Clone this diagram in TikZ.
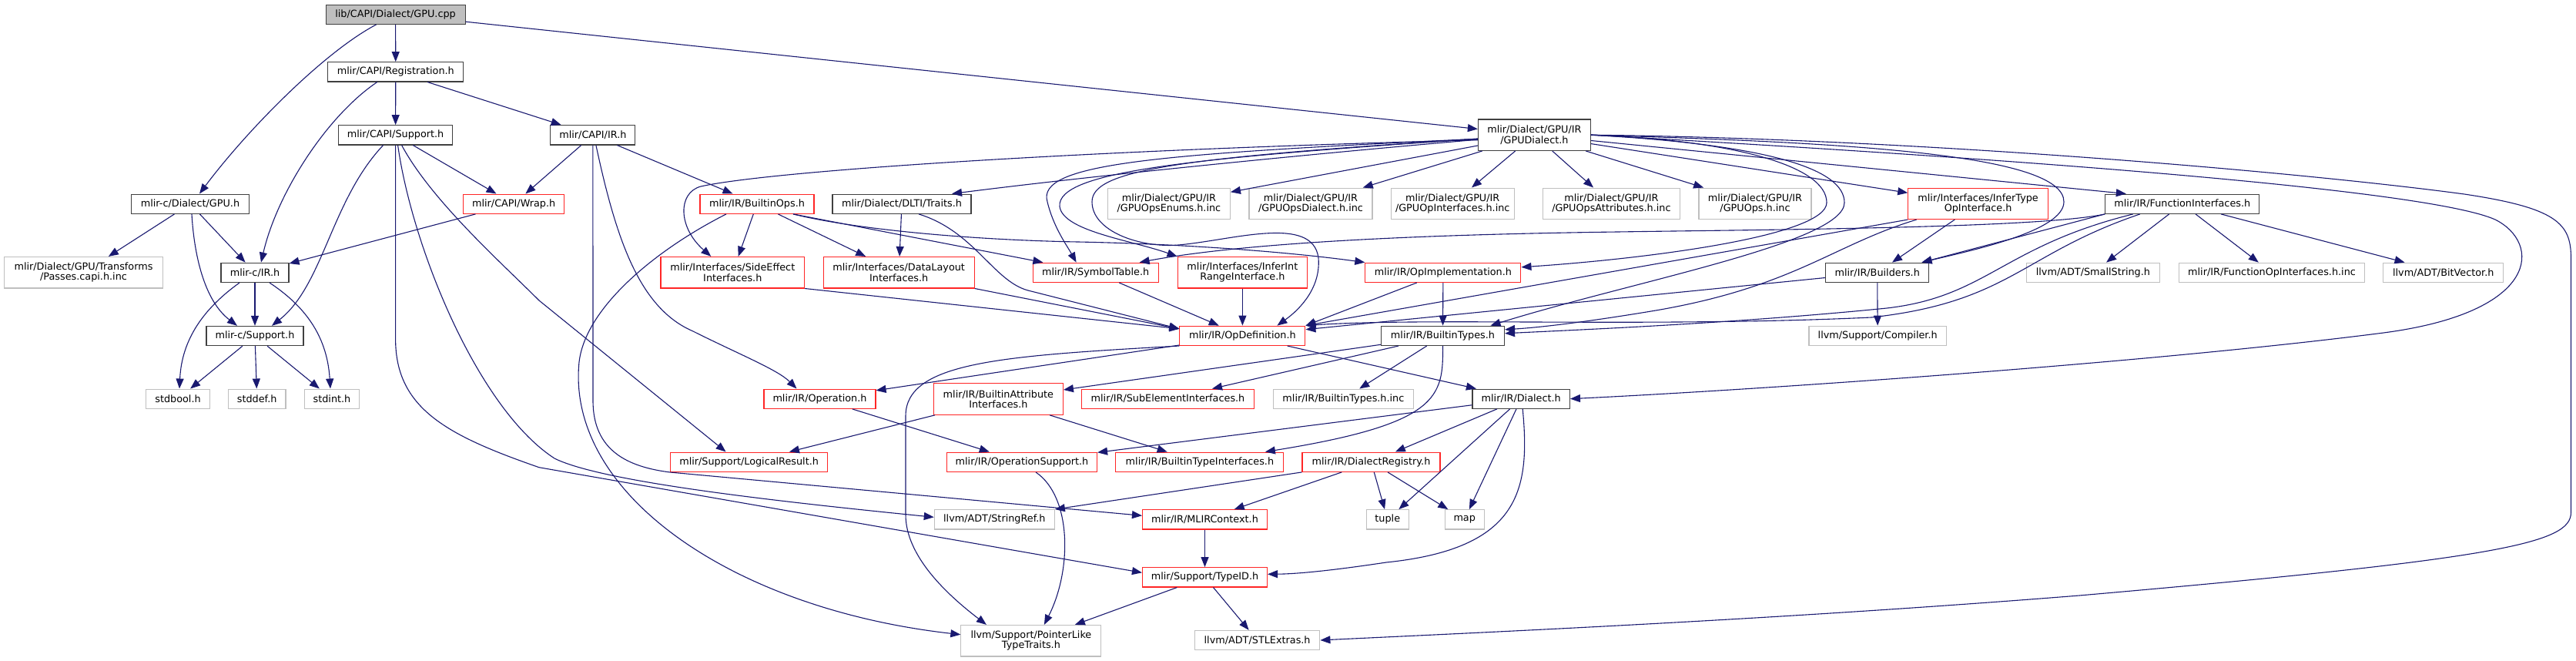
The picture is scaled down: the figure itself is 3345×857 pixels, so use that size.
\documentclass[tikz,border=0pt]{standalone}
\usepackage{fontspec}
\setmainfont{DejaVu Sans}
\usetikzlibrary{arrows.meta}
\definecolor{edgec}{HTML}{191970}
\definecolor{grayb}{HTML}{BFBFBF}
\definecolor{blackb}{HTML}{404040}
\definecolor{redb}{HTML}{FF2626}
\begin{document}
\begin{tikzpicture}[x=1pt,y=-1pt,
 base/.style={rectangle, inner sep=0pt, align=center, font=\fontsize{12.8}{13.3}\selectfont, fill=white, line width=1.1pt, minimum height=25.3pt},
 nb/.style={base, draw=blackb},
 nr/.style={base, draw=redb},
 ng/.style={base, draw=grayb},
 nroot/.style={base, draw=blackb, fill=grayb},
 tall/.style={minimum height=40.5pt},
 conn/.style={draw=edgec, line width=1.1pt, -{Triangle[length=13pt,width=10pt]}}
]
\useasboundingbox (0,0) rectangle (3345,857);

% ---- nodes ----
\node[nroot, minimum width=181pt] (root) at (513.6,18.7) {lib/CAPI/Dialect/GPU.cpp};
\node[nb, minimum width=176pt] (reg) at (513.8,93.3) {mlir/CAPI/Registration.h};
\node[nb, minimum width=148pt] (capisup) at (513.6,175.3) {mlir/CAPI/Support.h};
\node[nb, minimum width=110pt] (capiir) at (769.9,175.3) {mlir/CAPI/IR.h};
\node[nb, tall, minimum width=146pt] (gpudia) at (1992.4,175.2) {mlir/Dialect/GPU/IR\\/GPUDialect.h};
\node[nb, minimum width=153pt] (cgpu) at (247,264.7) {mlir-c/Dialect/GPU.h};
\node[nr, minimum width=131pt] (wrap) at (667.2,264.7) {mlir/CAPI/Wrap.h};
\node[nr, minimum width=148pt] (bops) at (983,264.7) {mlir/IR/BuiltinOps.h};
\node[nb, minimum width=180pt] (dlti) at (1171,264.7) {mlir/Dialect/DLTI/Traits.h};
\node[ng, tall, minimum width=159pt] (enums) at (1517.9,264.3) {mlir/Dialect/GPU/IR\\/GPUOpsEnums.h.inc};
\node[ng, tall, minimum width=160pt] (opsdia) at (1702,264.3) {mlir/Dialect/GPU/IR\\/GPUOpsDialect.h.inc};
\node[ng, tall, minimum width=160pt] (opint) at (1886.2,264.3) {mlir/Dialect/GPU/IR\\/GPUOpInterfaces.h.inc};
\node[ng, tall, minimum width=178.6pt] (attrs) at (2092.4,264.3) {mlir/Dialect/GPU/IR\\/GPUOpsAttributes.h.inc};
\node[ng, tall, minimum width=146pt] (gops) at (2279,264.3) {mlir/Dialect/GPU/IR\\/GPUOps.h.inc};
\node[nr, tall, minimum width=181.7pt] (itype) at (2568.6,264.3) {mlir/Interfaces/InferType\\OpInterface.h};
\node[nb, minimum width=200pt] (fint) at (2833.8,264.7) {mlir/IR/FunctionInterfaces.h};
\node[ng, tall, minimum width=206pt] (passes) at (108.5,353.7) {mlir/Dialect/GPU/Transforms\\/Passes.capi.h.inc};
\node[nb, minimum width=88pt] (cir) at (331,353.8) {mlir-c/IR.h};
\node[nr, tall, minimum width=186.6pt] (seff) at (951.3,353.7) {mlir/Interfaces/SideEffect\\Interfaces.h};
\node[nr, tall, minimum width=196pt] (dlay) at (1167.2,353.7) {mlir/Interfaces/DataLayout\\Interfaces.h};
\node[nr, minimum width=163pt] (symt) at (1422.6,353.8) {mlir/IR/SymbolTable.h};
\node[nr, tall, minimum width=168.6pt] (iint) at (1613.4,353.7) {mlir/Interfaces/InferInt\\RangeInterface.h};
\node[nr, minimum width=202pt] (opimpl) at (1873.9,353.8) {mlir/IR/OpImplementation.h};
\node[nb, minimum width=134.4pt] (build) at (2437.7,353.8) {mlir/IR/Builders.h};
\node[ng, minimum width=173pt] (sstr) at (2717.9,353.8) {llvm/ADT/SmallString.h};
\node[ng, minimum width=240.8pt] (foi) at (2950,353.8) {mlir/IR/FunctionOpInterfaces.h.inc};
\node[ng, minimum width=156pt] (bitv) at (3172.7,353.8) {llvm/ADT/BitVector.h};
\node[nb, minimum width=126pt] (csup) at (331,436) {mlir-c/Support.h};
\node[nr, minimum width=163pt] (opdef) at (1613.4,435.8) {mlir/IR/OpDefinition.h};
\node[nb, minimum width=160pt] (btypes) at (1873.5,435.8) {mlir/IR/BuiltinTypes.h};
\node[ng, minimum width=178.5pt] (comp) at (2438.2,435.8) {llvm/Support/Compiler.h};
\node[ng, minimum width=83pt] (stdbool) at (231,517.7) {stdbool.h};
\node[ng, minimum width=74.6pt] (stddef) at (333.7,517.7) {stddef.h};
\node[ng, minimum width=71pt] (stdint) at (431,517.7) {stdint.h};
\node[nr, minimum width=145pt] (oper) at (1064.5,517.7) {mlir/IR/Operation.h};
\node[nr, tall, minimum width=168pt] (battr) at (1296.4,518) {mlir/IR/BuiltinAttribute\\Interfaces.h};
\node[nr, minimum width=224pt] (subel) at (1516.5,517.7) {mlir/IR/SubElementInterfaces.h};
\node[ng, minimum width=182.6pt] (btinc) at (1744.4,517.7) {mlir/IR/BuiltinTypes.h.inc};
\node[nb, minimum width=126.4pt] (dial) at (1975.2,517.7) {mlir/IR/Dialect.h};
\node[nr, minimum width=204pt] (logres) at (972.6,599.7) {mlir/Support/LogicalResult.h};
\node[nr, minimum width=195pt] (opsup) at (1327,599.7) {mlir/IR/OperationSupport.h};
\node[nr, minimum width=218pt] (btint) at (1557.9,599.7) {mlir/IR/BuiltinTypeInterfaces.h};
\node[nr, minimum width=179pt] (dreg) at (1780.5,599.7) {mlir/IR/DialectRegistry.h};
\node[ng, minimum width=156pt] (sref) at (1291.3,674.3) {llvm/ADT/StringRef.h};
\node[nr, minimum width=162pt] (mctx) at (1564.5,674.3) {mlir/IR/MLIRContext.h};
\node[ng, minimum width=54.5pt] (tuple) at (1801.8,674.3) {tuple};
\node[ng, minimum width=51pt] (map) at (1901.7,674.3) {map};
\node[nr, minimum width=162pt] (typeid) at (1564.5,749.3) {mlir/Support/TypeID.h};
\node[ng, tall, minimum width=182pt] (plike) at (1338.9,831.7) {llvm/Support/PointerLike\\TypeTraits.h};
\node[ng, minimum width=162.5pt] (stl) at (1632.6,831) {llvm/ADT/STLExtras.h};

% ---- edges ----
\draw[conn] ([xshift=-25pt]root.south) .. controls (420,68) and (320,170) .. ([xshift=12pt]cgpu.north);
\draw[conn] (root) -- (reg);
\draw[conn] (root) -- (gpudia);
\draw[conn] ([xshift=-24pt]reg.south) .. controls (425,150) and (360,250) .. ([xshift=8pt]cir.north);
\draw[conn] (reg) -- (capisup);
\draw[conn] (reg) -- (capiir);
\draw[conn] ([xshift=-16pt]capisup.south) .. controls (430,260) and (420,370) .. ([xshift=22pt]csup.north);
\draw[conn] (capisup) -- (wrap);
\draw[conn] (capisup.south) -- (513.6,440) .. controls (513.6,530) and (580,565) .. (700,606.7) -- ([yshift=6pt]typeid.west);
\draw[conn] ([xshift=3pt]capisup.south) .. controls (535,320) and (620,530) .. (720,595) .. controls (780,625) and (1000,650) .. ([yshift=3pt]sref.west);
\draw[conn] ([xshift=8pt]capisup.south) .. controls (560,260) and (650,340) .. (700,390) -- ([xshift=-30pt]logres.north);
\draw[conn] (capiir) -- (wrap);
\draw[conn] (capiir.south) -- (770,520) .. controls (770,585) and (815,606) .. (870,613) -- ([yshift=5pt]mctx.west);
\draw[conn] ([xshift=4pt]capiir.south) .. controls (800,310) and (830,400) .. (900,430) .. controls (960,460) and (1010,480) .. ([xshift=-30pt]oper.north);
\draw[conn] (capiir) -- (bops);
\draw[conn] (wrap) -- (cir);
\draw[conn] (cgpu) -- (passes);
\draw[conn] (cgpu) -- (cir);
\draw[conn] ([xshift=2pt]cgpu.south) .. controls (252,330) and (265,390) .. ([xshift=-23pt]csup.north);
\draw[conn] (cir) -- (csup);
\draw[conn] ([xshift=-20pt]cir.south) .. controls (265,400) and (236,440) .. ([xshift=2pt]stdbool.north);
\draw[conn] ([xshift=19pt]cir.south) .. controls (400,400) and (425,440) .. ([xshift=-2pt]stdint.north);
\draw[conn] (csup) -- (stdbool);
\draw[conn] (csup) -- (stddef);
\draw[conn] (csup) -- (stdint);

\draw[conn] (bops) -- (seff);
\draw[conn] (bops) -- (dlay);
\draw[conn] ([xshift=47pt]bops.south) -- (symt);
\draw[conn] ([xshift=47pt]bops.south) .. controls (1120,300) and (1280,312) .. (1400,314) .. controls (1550,317) and (1680,328) .. (opimpl.north west);
\draw[conn] ([xshift=-40pt]bops.south) .. controls (850,325) and (760,400) .. (752,470) .. controls (735,640) and (950,790) .. ([yshift=8pt]plike.west);
\draw[conn] (dlti) -- (dlay);
\draw[conn] ([xshift=22pt]dlti.south) .. controls (1265,300) and (1290,365) .. (1335,377) -- ([yshift=9pt]opdef.west);
\draw[conn] (seff.south east) -- ([yshift=9pt]opdef.west);
\draw[conn] (dlay.south east) -- ([yshift=9pt]opdef.west);

% GPUDialect.h
\draw[conn] ([yshift=-6.5pt]gpudia.west) .. controls (1400,195) and (1000,222) .. (910,242) .. controls (880,250) and (880,295) .. ([xshift=-28pt]seff.north);
\draw[conn] ([yshift=-6pt]gpudia.west) .. controls (1700,200) and (1420,228) .. ([xshift=65pt]dlti.north);
\draw[conn] ([yshift=-5pt]gpudia.west) .. controls (1500,200) and (1345,212) .. (1360,262) .. controls (1368,295) and (1385,318) .. ([xshift=-25pt]symt.north);
\draw[conn] ([yshift=-5pt]gpudia.west) .. controls (1550,205) and (1372,222) .. (1376,268) .. controls (1380,300) and (1470,312) .. (iint.north west);
\draw[conn] ([yshift=-5pt]gpudia.west) .. controls (1520,205) and (1418,222) .. (1418,262) .. controls (1418,300) and (1480,322) .. (1530,318) .. controls (1600,312) and (1705,278) .. (1712,335) .. controls (1715,372) and (1690,400) .. ([xshift=45pt]opdef.north);
\draw[conn] (gpudia) -- (enums);
\draw[conn] (gpudia) -- (opsdia);
\draw[conn] (gpudia) -- (opint);
\draw[conn] (gpudia) -- (attrs);
\draw[conn] (gpudia) -- (gops);
\draw[conn] (gpudia) -- (itype);
\draw[conn] (gpudia) -- ([xshift=-73pt]fint.north);
\draw[conn] (gpudia.east) .. controls (2400,185) and (2680,200) .. (2680,262) .. controls (2680,300) and (2560,325) .. ([xshift=-10pt]build.north east);
\draw[conn] (gpudia.east) .. controls (2250,182) and (2372,215) .. (2372,263) .. controls (2372,305) and (2150,335) .. ([yshift=7pt]opimpl.east);
\draw[conn] (gpudia.east) .. controls (2300,188) and (2395,220) .. (2395,263) .. controls (2395,315) and (2120,365) .. ([xshift=62pt]btypes.north);
\draw[conn] (gpudia.east) .. controls (2600,205) and (3150,245) .. (3240,285) .. controls (3300,315) and (3300,405) .. (3095,432) .. controls (2800,470) and (2300,505) .. (dial.east);
\draw[conn] (gpudia.east) .. controls (2500,180) and (3000,225) .. (3200,252) .. controls (3320,270) and (3338.5,290) .. (3338.5,335) -- (3338.5,665) .. controls (3338.5,705) and (3250,725) .. (2700,773) .. controls (2300,805) and (1900,822) .. (stl.east);

% FunctionInterfaces.h
\draw[conn] (fint.south west) .. controls (2650,296) and (2300,298) .. (2100,301) .. controls (1800,305) and (1600,318) .. ([xshift=57pt]symt.north);
\draw[conn] (fint.south west) -- ([xshift=-10pt]build.north east);
\draw[conn] ([xshift=-64pt]fint.south) .. controls (2600,320) and (2580,385) .. (2450,400) .. controls (2250,420) and (2050,428) .. ([yshift=3pt]btypes.east);
\draw[conn] ([xshift=-55pt]fint.south) .. controls (2625,330) and (2610,392) .. (2430,412) .. controls (2150,425) and (1850,412) .. (opdef.north east);
\draw[conn] (fint) -- (sstr);
\draw[conn] (fint) -- (foi);
\draw[conn] (fint) -- (bitv);

% InferTypeOpInterface.h
\draw[conn] (itype) -- (build);
\draw[conn] (itype.south west) -- (opdef.north east);
\draw[conn] ([xshift=-80pt]itype.south) .. controls (2380,318) and (2330,372) .. (2150,403) .. controls (2060,418) and (2000,425) .. ([yshift=8pt]btypes.east);

\draw[conn] (symt) -- (opdef);
\draw[conn] (iint) -- (opdef);
\draw[conn] (opimpl) -- (opdef.north east);
\draw[conn] (opimpl) -- (btypes);
\draw[conn] (build) -- (opdef);
\draw[conn] (build) -- (comp);

% OpDefinition.h
\draw[conn] (opdef) -- (oper);
\draw[conn] (opdef.south west) .. controls (1300,462) and (1176,470) .. (1176,540) -- (1176,668) .. controls (1176,722) and (1230,772) .. ([xshift=-58pt]plike.north);
\draw[conn] (opdef) -- (dial);

% BuiltinTypes.h
\draw[conn] (btypes) -- (battr);
\draw[conn] (btypes) -- (subel);
\draw[conn] (btypes) -- (btinc);
\draw[conn] (btypes.south) .. controls (1874,515) and (1870,550) .. ([xshift=85pt]btint.north);

\draw[conn] (battr) -- (logres);
\draw[conn] (battr) -- (btint);
\draw[conn] (oper) -- (opsup);
\draw[conn] ([xshift=18pt]opsup.south) .. controls (1392,645) and (1392,740) .. ([xshift=17pt]plike.north);

% Dialect.h
\draw[conn] (dial) -- (opsup);
\draw[conn] (dial) -- (dreg);
\draw[conn] (dial) -- (tuple);
\draw[conn] (dial) -- (map);
\draw[conn] ([xshift=2pt]dial.south) .. controls (1987,635) and (1975,712) .. (1800,730) .. controls (1720,742) and (1680,745) .. ([yshift=4pt]typeid.east);

\draw[conn] (dreg.south west) -- (sref.north east);
\draw[conn] (dreg) -- (mctx);
\draw[conn] (dreg) -- (tuple);
\draw[conn] (dreg) -- (map);
\draw[conn] (mctx) -- (typeid);
\draw[conn] (typeid) -- (plike);
\draw[conn] (typeid) -- (stl);
\end{tikzpicture}
\end{document}
